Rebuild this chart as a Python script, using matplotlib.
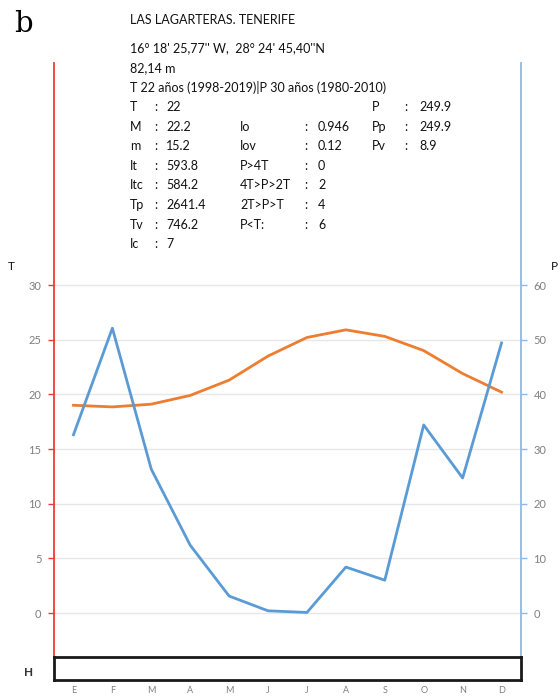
import matplotlib
matplotlib.use("Agg")
import matplotlib.pyplot as plt

months = ["E", "F", "M", "A", "M", "J", "J", "A", "S", "O", "N", "D"]
temp = [19.0, 18.85, 19.1, 19.9, 21.3, 23.5, 25.2, 25.9, 25.3, 24.0, 21.9, 20.2]
precip = [32.6, 52.1, 26.3, 12.4, 3.1, 0.4, 0.1, 8.4, 6.0, 34.4, 24.7, 49.4]
t_ticks = [0, 5, 10, 15, 20, 25, 30]
p_ticks = [0, 10, 20, 30, 40, 50, 60]

title = "LAS LAGARTERAS. TENERIFE"
coords = "16° 18' 25,77'' W,  28° 24' 45,40''N"
altitude = "82,14 m"
period = "T 22 años (1998-2019)|P 30 años (1980-2010)"
col1 = [("T", "22"), ("M", "22.2"), ("m", "15.2"), ("It", "593.8"),
        ("Itc", "584.2"), ("Tp", "2641.4"), ("Tv", "746.2"), ("Ic", "7")]
col2 = [None, ("Io", "0.946"), ("Iov", "0.12"), ("P>4T", "0"),
        ("4T>P>2T", "2"), ("2T>P>T", "4"), ("P<T:", "6"), None]
col3 = [("P", "249.9"), ("Pp", "249.9"), ("Pv", "8.9")]

W, H = 560, 697
fig = plt.figure(figsize=(W / 100, H / 100), dpi=100)
fig.patch.set_facecolor("white")

def px_axes(x0, y0, x1, y1):
    return fig.add_axes([x0 / W, 1 - y1 / H, (x1 - x0) / W, (y1 - y0) / H])

ORANGE = "#ED7D31"
BLUE = "#5B9BD5"
RED = "#F03A3A"
LBLUE = "#8DB9E6"
GRAY = "#7F7F7F"
FONT = "Lato"

# main axes
x0, x1 = 54, 521
ytop, ybot = 63, 657
y0px, y30px = 613, 285
ppu = (y0px - y30px) / 30.0
ymax = (y0px - ytop) / ppu
ymin = (y0px - ybot) / ppu
ax = px_axes(x0, ytop, x1, ybot)
ax.set_xlim(-0.5, 11.5)
ax.set_ylim(ymin, ymax)
ax2 = ax.twinx()
ax2.set_ylim(ymin * 2, ymax * 2)

for t in t_ticks:
    ax.axhline(t, color="#E6E6E6", lw=1.0, zorder=0)

xs = list(range(len(months)))
ax.plot(xs, temp, color=ORANGE, lw=2.0, zorder=3)
ax2.plot(xs, precip, color=BLUE, lw=2.0, zorder=3)

ax.set_xticks([])
ax.set_yticks(t_ticks)
ax.set_yticklabels([str(t) for t in t_ticks], color=GRAY, fontsize=8, family=FONT)
ax.tick_params(axis="y", colors=RED, labelcolor=GRAY, length=4, width=1, direction="out", pad=5)
ax2.set_yticks(p_ticks)
ax2.set_yticklabels([str(p) for p in p_ticks], color=GRAY, fontsize=8, family=FONT)
ax2.tick_params(axis="y", colors=LBLUE, labelcolor=GRAY, length=4, width=1, direction="out", pad=5)

for a in (ax, ax2):
    a.spines["top"].set_visible(False)
    a.spines["bottom"].set_visible(False)
ax.spines["left"].set_color(RED)
ax.spines["left"].set_linewidth(1.3)
ax.spines["right"].set_visible(False)
ax2.spines["left"].set_visible(False)
ax2.spines["right"].set_color(LBLUE)
ax2.spines["right"].set_linewidth(1.3)
ax.patch.set_visible(False)

# H box
axh = px_axes(x0, 657, x1, 680)
axh.set_xlim(-0.5, 11.5)
axh.set_yticks([])
axh.set_xticks(xs)
axh.set_xticklabels(months, fontsize=6.5, color=GRAY, family=FONT)
axh.tick_params(axis="x", length=0, pad=4)
for s in axh.spines.values():
    s.set_linewidth(2.0)
    s.set_color("#1a1a1a")

# texts
def ftxt(x, y, s, **kw):
    kw.setdefault("family", FONT)
    kw.setdefault("fontsize", 9)
    kw.setdefault("color", "#111111")
    fig.text(x / W, 1 - y / H, s, va="center", ha=kw.pop("ha", "left"), **kw)

ftxt(14, 24, "b", family="DejaVu Serif", fontsize=21, color="black")
ftxt(130, 20, title)
ftxt(130, 48, coords)
ftxt(130, 68, altitude)
ftxt(130, 87, period)
ly = 107
dy = 19.6
for i, (lab, val) in enumerate(col1):
    y = ly + i * dy
    ftxt(130, y, lab)
    ftxt(154, y, ":")
    ftxt(166, y, val)
for i, item in enumerate(col2):
    if item is None:
        continue
    y = ly + i * dy
    ftxt(240, y, item[0])
    ftxt(304, y, ":")
    ftxt(318, y, item[1])
for i, (lab, val) in enumerate(col3):
    y = ly + i * dy
    ftxt(372, y, lab)
    ftxt(404, y, ":")
    ftxt(419, y, val)

ftxt(8, 266, "T", fontsize=8.5)
ftxt(551, 266, "P", fontsize=8.5)
ftxt(24, 673, "H", fontsize=8.5, weight="bold", color="#333333")

fig.savefig("out.png", dpi=100, facecolor="white")
